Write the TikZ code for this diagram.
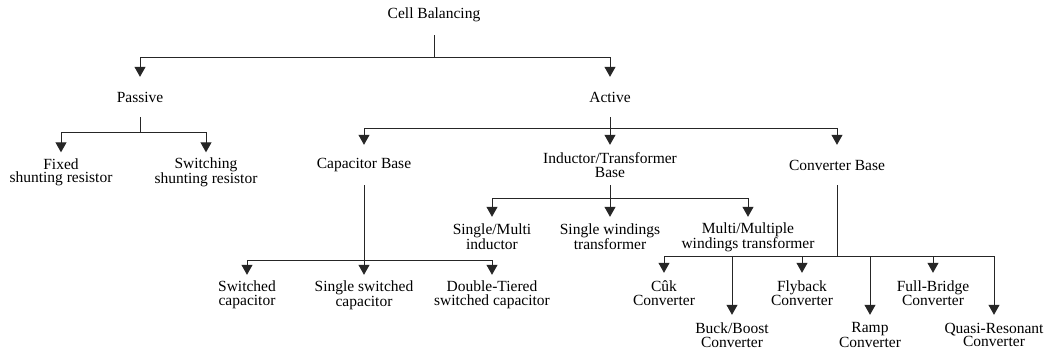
\documentclass[tikz,border=0pt]{standalone}
\usepackage{fontspec}
\setmainfont{Liberation Serif}
\usetikzlibrary{arrows.meta}
\begin{document}
\begin{tikzpicture}[x=1pt,y=-1pt,
  lbl/.style={inner sep=0pt, minimum height=40pt, align=center, font=\fontsize{15.5}{13.5}\selectfont},
  conn/.style={line width=1pt, draw=black!85},
  arr/.style={conn, -{Triangle[length=10pt,width=11pt]}}]
\useasboundingbox (0,0) rectangle (1047,349);
% nodes
\node[lbl] (cb) at (434,15) {Cell Balancing};
\node[lbl] (pas) at (140,97) {Passive};
\node[lbl] (act) at (610,97) {Active};
\node[lbl] (fix) at (61,172.5) {Fixed\\shunting resistor};
\node[lbl] (swi) at (206,172.5) {Switching\\shunting resistor};
\node[lbl] (cap) at (364,165) {Capacitor Base};
\node[lbl] (ind) at (610,165) {Inductor/Transformer\\Base};
\node[lbl] (con) at (837,165) {Converter Base};
\node[lbl] (sc) at (247,295) {Switched\\capacitor};
\node[lbl] (ssc) at (364,295) {Single switched\\capacitor};
\node[lbl] (dts) at (492,295) {Double-Tiered\\switched capacitor};
\node[lbl] (smi) at (492,237) {Single/Multi\\inductor};
\node[lbl] (swt) at (610,237) {Single windings\\transformer};
\node[lbl] (mmw) at (748,237) {Multi/Multiple\\windings transformer};
\node[lbl] (cuk) at (664,293) {Cûk\\Converter};
\node[lbl] (bb) at (732,335) {Buck/Boost\\Converter};
\node[lbl] (fly) at (802,293) {Flyback\\Converter};
\node[lbl] (ramp) at (870,335) {Ramp\\Converter};
\node[lbl] (fb) at (933,293) {Full-Bridge\\Converter};
\node[lbl] (qr) at (994,335) {Quasi-Resonant\\Converter};
% junctions
\coordinate (jcb) at (434,57);
\coordinate (jpas) at (140,132);
\coordinate (jact) at (610,128);
\coordinate (jcap) at (364,260);
\coordinate (jind) at (610,198);
\coordinate (jcon) at (837,256);
% connectors
\draw[conn] (cb.south) -- (jcb);
\draw[arr] (jcb) -| (pas.north);
\draw[arr] (jcb) -| (act.north);
\draw[conn] (pas.south) -- (jpas);
\draw[arr] (jpas) -| (fix.north);
\draw[arr] (jpas) -| (swi.north);
\draw[conn] (act.south) -- (jact);
\draw[arr] (jact) -| (cap.north);
\draw[arr] (jact) -- (ind.north);
\draw[arr] (jact) -| (con.north);
\draw[conn] (cap.south) -- (jcap);
\draw[arr] (jcap) -| (sc.north);
\draw[arr] (jcap) -- (ssc.north);
\draw[arr] (jcap) -| (dts.north);
\draw[conn] (ind.south) -- (jind);
\draw[arr] (jind) -| (smi.north);
\draw[arr] (jind) -- (swt.north);
\draw[arr] (jind) -| (mmw.north);
\draw[conn] (con.south) -- (jcon);
\draw[arr] (jcon) -| (cuk.north);
\draw[arr] (jcon) -| (bb.north);
\draw[arr] (jcon) -| (fly.north);
\draw[arr] (jcon) -| (ramp.north);
\draw[arr] (jcon) -| (fb.north);
\draw[arr] (jcon) -| (qr.north);
\end{tikzpicture}
\end{document}
